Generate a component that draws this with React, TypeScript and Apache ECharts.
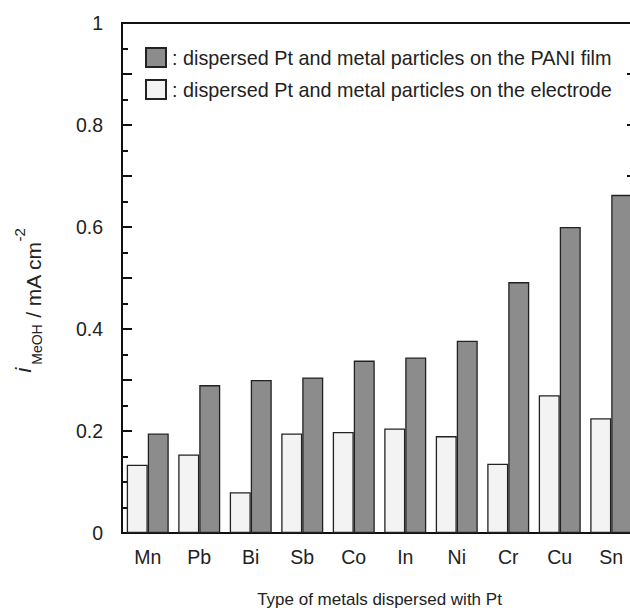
import React, { useEffect, useRef } from "react";
import * as echarts from "echarts";

const categories = ["Mn", "Pb", "Bi", "Sb", "Co", "In", "Ni", "Cr", "Cu", "Sn"];
const electrodeValues = [0.134, 0.154, 0.08, 0.195, 0.198, 0.205, 0.19, 0.136, 0.27, 0.225];
const paniValues = [0.195, 0.29, 0.3, 0.305, 0.338, 0.344, 0.377, 0.492, 0.6, 0.663];
const paniName = "dispersed Pt and metal particles on the PANI film";
const electrodeName = "dispersed Pt and metal particles on the electrode";
const xAxisTitle = "Type of metals dispersed with Pt";

const FONT = "'Liberation Sans', Arial, Helvetica, sans-serif";
const TEXT = "#222";

export default function App() {
  const ref = useRef<HTMLDivElement>(null);
  useEffect(() => {
    if (!ref.current) return;
    const chart = echarts.init(ref.current, null, { renderer: "svg" });
    chart.setOption({
      animation: false,
      textStyle: { fontFamily: FONT, color: TEXT },
      grid: {
        left: 122,
        top: 23,
        width: 515,
        height: 514,
        show: true,
        borderColor: "#111",
        borderWidth: 2,
        backgroundColor: "transparent",
      },
      legend: {
        data: [paniName, electrodeName],
        orient: "vertical",
        left: 145,
        top: 47,
        padding: 0,
        itemWidth: 20,
        itemHeight: 19,
        itemGap: 11,
        icon: "rect",
        formatter: (n: string) => ": " + n,
        textStyle: { fontSize: 19.8, color: TEXT, fontFamily: FONT, padding: [0, 0, 0, 1] },
      },
      xAxis: {
        type: "category",
        data: categories,
        name: xAxisTitle,
        nameLocation: "middle",
        nameGap: 58,
        nameTextStyle: { fontSize: 17, color: TEXT, fontFamily: FONT },
        axisLine: { lineStyle: { color: "#111", width: 2 } },
        axisTick: { show: false },
        axisLabel: { fontSize: 19.5, color: TEXT, margin: 14, fontFamily: FONT },
      },
      yAxis: [
        {
          type: "value",
          min: 0,
          max: 1,
          interval: 0.1,
          name: "{h| }{i|i}{sub|MeOH}{t| / mA cm}{sup|-2}",
          nameLocation: "middle",
          nameRotate: 90,
          nameGap: 78,
          nameTextStyle: {
            fontFamily: FONT,
            color: TEXT,
            padding: [0, 45, 0, 0],
            rich: {
              h: { fontSize: 1, lineHeight: 32, verticalAlign: "middle", fontFamily: FONT, color: TEXT },
              i: { fontSize: 22, fontStyle: "italic", lineHeight: 13, verticalAlign: "top", padding: [0, 3, 0, 0], fontFamily: FONT, color: TEXT },
              sub: { fontSize: 14, lineHeight: 14, verticalAlign: "bottom", fontFamily: FONT, color: TEXT },
              t: { fontSize: 21, lineHeight: 19, verticalAlign: "bottom", fontFamily: FONT, color: TEXT },
              sup: { fontSize: 15, lineHeight: 19, verticalAlign: "top", fontFamily: FONT, color: TEXT },
            },
          },
          axisLine: { show: true, lineStyle: { color: "#111", width: 2 } },
          axisTick: { show: true, inside: true, length: 10, lineStyle: { color: "#111", width: 2 } },
          minorTick: { show: true, splitNumber: 2, length: 6, lineStyle: { color: "#111", width: 2 } },
          splitLine: { show: false },
          axisLabel: {
            fontSize: 19.5,
            color: TEXT,
            margin: 19,
            fontFamily: FONT,
            formatter: (v: number) => {
              const k = Math.round(v * 10);
              if (k % 2 !== 0) return "";
              if (k === 0) return "0";
              if (k === 10) return "1";
              return (k / 10).toFixed(1);
            },
          },
        },
        {
          type: "value",
          position: "right",
          min: 0,
          max: 1,
          interval: 0.1,
          axisLine: { show: true, lineStyle: { color: "#111", width: 2 } },
          axisTick: { show: true, inside: true, length: 10, lineStyle: { color: "#111", width: 2 } },
          minorTick: { show: true, splitNumber: 2, length: 6, lineStyle: { color: "#111", width: 2 } },
          splitLine: { show: false },
          axisLabel: { show: false },
        },
      ],
      series: [
        {
          name: electrodeName,
          type: "bar",
          data: electrodeValues,
          barWidth: 21,
          barGap: "0%",
          z: 1,
          itemStyle: { color: "#f3f3f3", borderColor: "#222", borderWidth: 1.3 },
        },
        {
          name: paniName,
          type: "bar",
          data: paniValues,
          barWidth: 21,
          barGap: "0%",
          z: 1,
          itemStyle: { color: "#8c8c8c", borderColor: "#222", borderWidth: 1.3 },
        },
      ],
    });
    return () => chart.dispose();
  }, []);
  return (
    <div style={{ position: "fixed", left: 0, top: 0, width: 630, height: 613, overflow: "hidden", background: "#fff" }}>
      <div ref={ref} style={{ width: 660, height: 613 }} />
    </div>
  );
}
